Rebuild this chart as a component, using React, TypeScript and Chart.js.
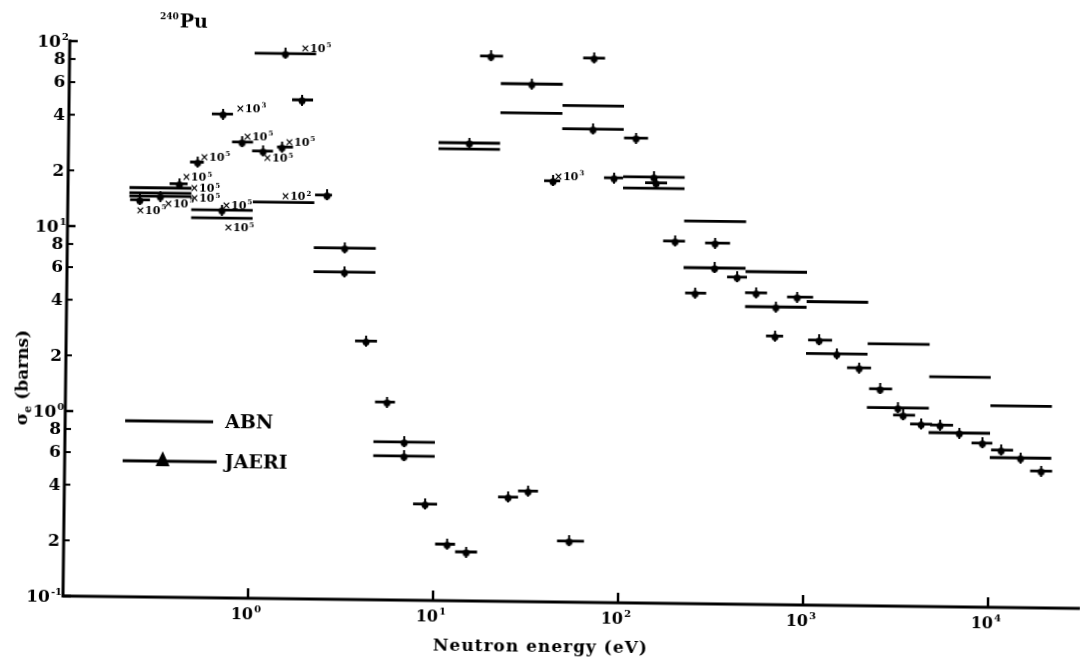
import React, { useEffect, useRef } from "react";
import { Chart, registerables } from "chart.js";

Chart.register(...registerables);

// ---------------- data (energies in eV, cross sections in barns) ----------------
// ABN group values (plain horizontal lines)
const abnLo = [0.215, 0.215, 0.465, 1, 10, 21.5, 46.5, 100, 215, 465, 1000, 2150, 4650, 10000];
const abnHi = [0.465, 0.465, 1, 2.15, 21.5, 46.5, 100, 215, 465, 1000, 2150, 4650, 10000, 21500];
const abnSigma = [16.3, 15.3, 11.3, 13.9, 27.7, 43.8, 48.3, 17.5, 11.7, 6.29, 4.37, 2.61, 1.75, 1.23];

// JAERI values collapsed to the ABN groups (wide lines with a marker)
const jaeriGroupLo = [0.215, 0.465, 1, 2.15, 2.15, 4.65, 4.65, 10, 21.5, 46.5, 100, 215, 465, 1000, 2150, 4650, 10000];
const jaeriGroupHi = [0.465, 1, 2.15, 4.65, 4.65, 10, 10, 21.5, 46.5, 100, 215, 465, 1000, 2150, 4650, 10000, 21500];
const jaeriGroupSigma = [14.7, 12.5, 88.5, 7.94, 5.89, 0.716, 0.601, 29.9, 62.9, 36.2, 20.1, 6.55, 4.07, 2.29, 1.18, 0.872, 0.645];

// JAERI fine-group values (short bars with a marker)
const jaeriE = [0.245, 0.40, 0.50, 0.681, 0.867, 1.127, 1.426, 1.817, 2.515, 4.18, 5.475, 8.93, 11.81, 14.99, 18.96, 25.06, 32.1, 41.8, 53.9, 68.4, 89.3, 116.7, 150.8, 192.7, 249, 317, 419, 532, 678, 887, 1174, 1940, 2527, 3379, 4232, 5358, 9100, 11500, 18980];
const jaeriLo = [0.217, 0.354, 0.455, 0.593, 0.765, 0.983, 1.34, 1.605, 2.167, 3.645, 4.716, 7.69, 10.18, 13.07, 16.54, 22.13, 28.35, 37.4, 46.4, 59.7, 78.8, 100.5, 131.5, 166, 220, 280, 370, 464, 606, 783, 1024, 1670, 2204, 2983, 3690, 4732, 7950, 10150, 16550];
const jaeriHi = [0.278, 0.443, 0.54, 0.771, 0.994, 1.276, 1.635, 2.084, 2.677, 4.79, 6.047, 10.37, 13.05, 17.18, 22.02, 28.38, 36.35, 45.7, 64.9, 78.4, 99.9, 135.5, 172.9, 218, 286, 382, 474, 610, 750, 1083, 1380, 2251, 2935, 3922, 4853, 6302, 10300, 13350, 21770];
const jaeriSigma = [14.0, 17.2, 22.6, 41.3, 29.2, 26.2, 27.6, 49.8, 15.3, 2.50, 1.175, 0.332, 0.202, 0.184, 88.5, 0.367, 0.396, 18.9, 0.214, 87.7, 19.8, 32.6, 18.7, 9.10, 4.78, 8.93, 5.87, 4.83, 2.83, 4.62, 2.71, 1.93, 1.49, 1.08, 0.969, 0.960, 0.772, 0.709, 0.550];

// "x10^n" scale notes placed next to the resonance-region values
const noteExp = ["5", "3", "5", "5", "5", "5", "5", "5", "5", "5", "5", "5", "5", "2", "3"];
const noteE = [2.145, 0.964, 1.056, 1.784, 1.36, 0.621, 0.497, 0.55, 0.551, 0.399, 0.282, 0.822, 0.845, 1.71, 51.0];
const noteSigma = [95.2, 44.7, 31.6, 29.5, 24.1, 24.2, 18.8, 16.4, 14.5, 13.5, 12.4, 13.3, 10.1, 15.0, 20.1];

// axes ticks
const xTickValues = [1, 10, 100, 1000, 10000];
const xTickExp = ["0", "1", "2", "3", "4"];
const yDecadeValues = [0.1, 1, 10, 100];
const yDecadeExp = ["-1", "0", "1", "2"];
const yMinorMantissa = [2, 4, 6, 8];

const titleSup = "240";
const titleMain = "Pu";
const xTitle = "Neutron energy (eV)";
const yTitleSymbol = "σ";
const yTitleSub = "e";
const yTitleRest = " (barns)";

const SERIF = '"DejaVu Serif", "Liberation Serif", serif';

function drawPow(ctx: CanvasRenderingContext2D, base: string, exp: string, x: number, y: number, size: number, align: string) {
  const supSize = Math.round(size * 0.6);
  ctx.font = `bold ${size}px ${SERIF}`;
  const wb = ctx.measureText(base).width;
  ctx.font = `bold ${supSize}px ${SERIF}`;
  const we = ctx.measureText(exp).width;
  const total = wb + 1 + we;
  const x0 = align === "right" ? x - total : align === "center" ? x - total / 2 : x;
  ctx.textAlign = "left";
  ctx.textBaseline = "alphabetic";
  ctx.font = `bold ${size}px ${SERIF}`;
  ctx.fillText(base, x0, y);
  ctx.font = `bold ${supSize}px ${SERIF}`;
  ctx.fillText(exp, x0 + wb + 1, y - size * 0.42);
}

function makeMarker() {
  const m = document.createElement("canvas");
  m.width = 10;
  m.height = 11;
  const g = m.getContext("2d")!;
  g.fillStyle = "#000";
  g.fillRect(4, 0, 2, 11);
  g.beginPath();
  g.arc(5, 6.5, 3.5, 0, Math.PI * 2);
  g.fill();
  return m;
}

function segments(lo: number[], hi: number[], val: number[], centers: number[] | null, marker: boolean) {
  const out: any[] = [];
  for (let i = 0; i < val.length; i++) {
    out.push({ x: lo[i], y: val[i] });
    if (marker) {
      const c = centers ? centers[i] : Math.sqrt(lo[i] * hi[i]);
      out.push({ x: c, y: val[i], c: true });
    }
    out.push({ x: hi[i], y: val[i] });
    out.push({ x: hi[i], y: null });
  }
  return out;
}

const decorPlugin = {
  id: "decor",
  afterDraw(chart: any) {
    const { ctx, chartArea: a, scales } = chart;
    const xs = scales.x;
    const ys = scales.y;
    ctx.save();
    ctx.fillStyle = "#000";
    ctx.strokeStyle = "#000";

    // axis lines
    ctx.lineWidth = 3;
    ctx.lineCap = "square";
    ctx.beginPath();
    ctx.moveTo(a.left, a.top);
    ctx.lineTo(a.left, a.bottom);
    ctx.lineTo(chart.width, a.bottom);
    ctx.stroke();
    ctx.lineCap = "butt";

    // y ticks and labels
    yDecadeValues.forEach((v, i) => {
      const py = ys.getPixelForValue(v);
      ctx.lineWidth = 2.5;
      ctx.beginPath();
      ctx.moveTo(a.left, py);
      ctx.lineTo(a.left + 8, py);
      ctx.stroke();
      drawPow(ctx, "10", yDecadeExp[i], a.left - 1, py + 6, 17, "right");
      if (i < yDecadeValues.length - 1) {
        yMinorMantissa.forEach((m) => {
          const pm = ys.getPixelForValue(m * v);
          ctx.lineWidth = 2;
          ctx.beginPath();
          ctx.moveTo(a.left, pm);
          ctx.lineTo(a.left + 6, pm);
          ctx.stroke();
          ctx.font = `bold 17px ${SERIF}`;
          ctx.textAlign = "right";
          ctx.textBaseline = "middle";
          ctx.fillText(String(m), a.left - 4, pm + 1);
        });
      }
    });

    // x ticks and labels
    xTickValues.forEach((v, i) => {
      const px = xs.getPixelForValue(v);
      ctx.lineWidth = 2.5;
      ctx.beginPath();
      ctx.moveTo(px, a.bottom);
      ctx.lineTo(px, a.bottom - 10);
      ctx.stroke();
      drawPow(ctx, "10", xTickExp[i], px - 2, a.bottom + 21, 16, "center");
    });

    // scale notes
    noteExp.forEach((e, i) => {
      const px = xs.getPixelForValue(noteE[i]);
      const py = ys.getPixelForValue(noteSigma[i]);
      drawPow(ctx, "×10", e, px, py + 4, 11, "center");
    });

    // title
    ctx.textAlign = "left";
    ctx.textBaseline = "alphabetic";
    ctx.font = `bold 9px ${SERIF}`;
    ctx.fillText(titleSup, 153, 18);
    const ws = ctx.measureText(titleSup).width;
    ctx.font = `bold 19px ${SERIF}`;
    ctx.fillText(titleMain, 153 + ws + 1, 26);

    // x title
    ctx.font = `bold 17px ${SERIF}`;
    (ctx as any).letterSpacing = "1px";
    ctx.textAlign = "center";
    ctx.textBaseline = "middle";
    ctx.fillText(xTitle, 541, 642);
    (ctx as any).letterSpacing = "0px";

    // y title (rotated)
    ctx.save();
    ctx.translate(19, 378);
    ctx.rotate(-Math.PI / 2);
    ctx.font = `bold 17px ${SERIF}`;
    const w1 = ctx.measureText(yTitleSymbol).width;
    const w3 = ctx.measureText(yTitleRest).width;
    ctx.font = `bold 11px ${SERIF}`;
    const w2 = ctx.measureText(yTitleSub).width;
    const x0 = -(w1 + w2 + w3) / 2;
    ctx.textAlign = "left";
    ctx.textBaseline = "alphabetic";
    ctx.font = `bold 17px ${SERIF}`;
    ctx.fillText(yTitleSymbol, x0, 6);
    ctx.font = `bold 11px ${SERIF}`;
    ctx.fillText(yTitleSub, x0 + w1, 10);
    ctx.font = `bold 17px ${SERIF}`;
    ctx.fillText(yTitleRest, x0 + w1 + w2, 6);
    ctx.restore();

    // legend
    const ds = chart.data.datasets;
    ctx.lineWidth = 2.8;
    ctx.beginPath();
    ctx.moveTo(123, 420);
    ctx.lineTo(211, 420);
    ctx.stroke();
    ctx.beginPath();
    ctx.moveTo(121, 460);
    ctx.lineTo(215, 460);
    ctx.stroke();
    ctx.beginPath();
    ctx.moveTo(161, 450);
    ctx.lineTo(168, 465);
    ctx.lineTo(154, 465);
    ctx.closePath();
    ctx.fill();
    ctx.font = `bold 19px ${SERIF}`;
    ctx.textAlign = "left";
    ctx.textBaseline = "middle";
    ctx.fillText(ds[0].label, 223, 421);
    ctx.fillText(ds[1].label, 223, 461);

    ctx.restore();
  },
};

export default function App() {
  const ref = useRef<HTMLCanvasElement>(null);
  useEffect(() => {
    const marker = makeMarker();
    const abnData = segments(abnLo, abnHi, abnSigma, null, false);
    const jaeriData = [
      ...segments(jaeriGroupLo, jaeriGroupHi, jaeriGroupSigma, null, true),
      ...segments(jaeriLo, jaeriHi, jaeriSigma, jaeriE, true),
    ];
    const chart = new Chart(ref.current as HTMLCanvasElement, {
      type: "scatter",
      data: {
        datasets: [
          {
            label: "ABN",
            data: abnData,
            showLine: true,
            borderColor: "#000",
            backgroundColor: "#000",
            borderWidth: 2.8,
            pointRadius: 0,
            spanGaps: false,
          } as any,
          {
            label: "JAERI",
            data: jaeriData,
            showLine: true,
            borderColor: "#000",
            backgroundColor: "#000",
            borderWidth: 2.8,
            pointStyle: marker,
            pointRadius: (c: any) => (c.raw && c.raw.c ? 5 : 0),
            spanGaps: false,
          } as any,
        ],
      },
      options: {
        responsive: false,
        animation: false,
        events: [],
        layout: { padding: { left: 0, right: 3.7, top: 41, bottom: 0 } },
        plugins: {
          legend: { display: false },
          tooltip: { enabled: false },
          title: { display: false },
        },
        scales: {
          x: {
            type: "logarithmic",
            min: 0.1,
            max: 30000,
            grid: { display: false },
            border: { display: false },
            ticks: { display: false },
            afterFit: (s: any) => {
              s.height = 64;
            },
          },
          y: {
            type: "logarithmic",
            min: 0.1,
            max: 100,
            grid: { display: false },
            border: { display: false },
            ticks: { display: false },
            afterFit: (s: any) => {
              s.width = 63;
            },
          },
        },
      } as any,
      plugins: [decorPlugin],
    });
    return () => chart.destroy();
  }, []);
  return (
    <div
      style={{
        position: "fixed",
        left: 0,
        top: 0,
        width: 1080,
        height: 660,
        transform: "rotate(0.7deg)",
        transformOrigin: "63px 596px",
      }}
    >
      <canvas ref={ref} width={1080} height={660} style={{ width: 1080, height: 660, display: "block" }} />
    </div>
  );
}
